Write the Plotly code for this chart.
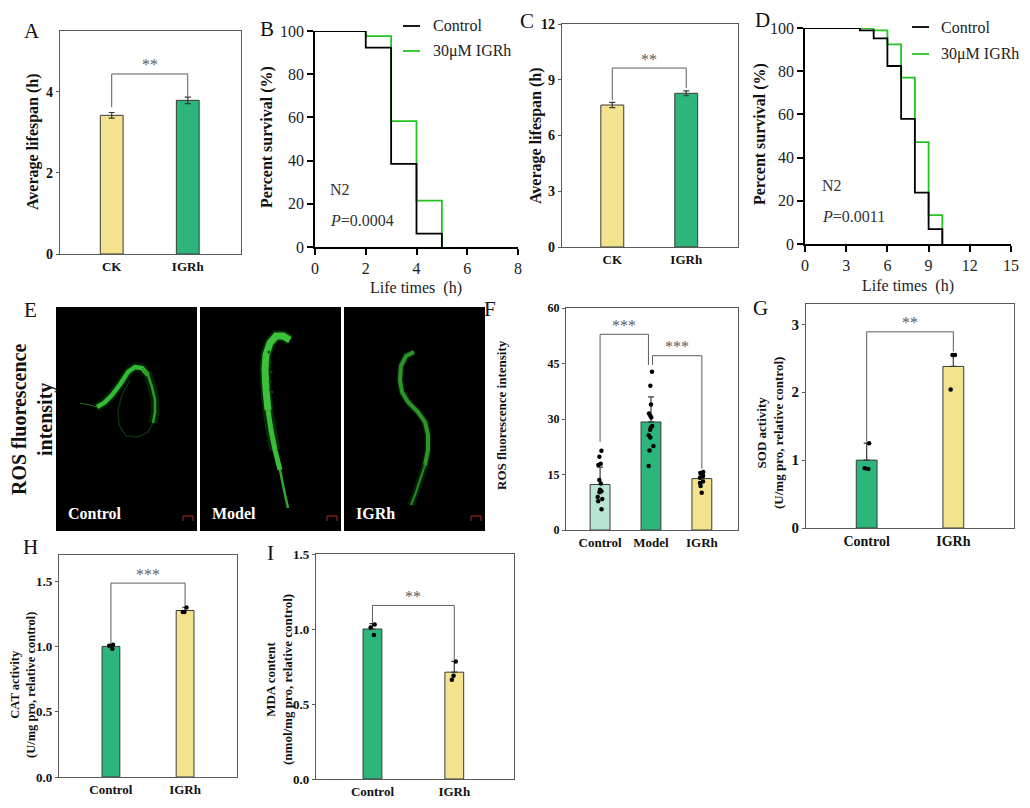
import plotly.graph_objects as go

# page body keeps an 8px margin, so the figure is drawn 8px in and 16px smaller
OX, OY = 8, 8
FW, FH = 1014, 792
SERIF = "Liberation Serif"
YELLOW = "#F4E38E"
GREEN = "#2DB67B"
MINT = "#B8E6D3"
LIME = "#22c422"
EDGE = "#3a3a3a"
FRAME = "#5a5a5a"
STAR = "#5c5c5c"

# ---------------- data ----------------
# A / C : average lifespan (h)
life_groups = ["CK", "IGRh"]
life_a_mean = [3.42, 3.79]
life_a_err = [0.07, 0.08]
life_c_mean = [7.64, 8.27]
life_c_err = [0.14, 0.13]

# B / D : survival curves (%)
surv_names = ["Control", "30μM IGRh"]
surv_b_t = [0, 2, 3, 4, 5]
surv_b_control = [100, 92.3, 38.5, 6.2, 0]
surv_b_igrh = [100, 97.6, 58.3, 21.5, 0]
surv_d_t_control = [0, 4, 5, 6, 7, 8, 9, 10]
surv_d_control = [100, 98.9, 95.2, 82.4, 57.9, 23.8, 6.9, 0]
surv_d_t_igrh = [0, 5, 6, 7, 8, 9, 10]
surv_d_igrh = [100, 98.9, 92.4, 77.0, 47.2, 13.4, 0]

# F : ROS fluorescence intensity
ros_groups = ["Control", "Model", "IGRh"]
ros_mean = [12.3, 29.2, 13.9]
ros_sd = [4.7, 6.8, 1.6]
ros_control_pts = [21.4, 19.8, 17.9, 17.6, 13.5, 12.6, 10.9, 10.5, 10.2, 8.9, 8.4, 7.8, 5.6]
ros_model_pts = [42.8, 39.0, 33.9, 31.5, 30.9, 30.4, 28.1, 27.8, 27.1, 25.6, 25.0, 22.7, 21.5, 17.3]
ros_igrh_pts = [15.7, 15.4, 15.2, 15.0, 14.6, 14.1, 13.1, 12.7, 11.9, 10.1]

# G / H / I : enzyme activity, relative to control
enz_groups = ["Control", "IGRh"]
sod_mean = [1.0, 2.38]
sod_err = [0.25, 0.17]
sod_control_pts = [0.87, 0.88, 1.25]
sod_igrh_pts = [2.04, 2.55, 2.55]
cat_mean = [1.0, 1.275]
cat_err = [0.013, 0.025]
cat_control_pts = [0.982, 1.005, 1.013]
cat_igrh_pts = [1.263, 1.263, 1.298]
mda_mean = [1.0, 0.712]
mda_err = [0.036, 0.072]
mda_control_pts = [0.96, 1.01, 1.03]
mda_igrh_pts = [0.662, 0.689, 0.784]


def px(x):
    return (x - OX) / FW


def py(y):
    return 1 - (y - OY) / FH


def ax_names(n):
    return ("x", "y") if n == 1 else (f"x{n}", f"y{n}")


fig = go.Figure()
shapes = []
annotations = []


def bar_panel(n, groups, means, errs, pts_lists, colors, box, xr, yr, dtick,
              bar_w, err_sym, tick_size, xtick_size, ytick_fmt=None):
    xa, ya = ax_names(n)
    pos = list(range(len(groups)))
    fig.add_trace(go.Bar(
        x=pos, y=means, width=bar_w, xaxis=xa, yaxis=ya,
        marker=dict(color=colors, line=dict(color=EDGE, width=1)),
        error_y=dict(type="data", array=errs,
                     arrayminus=errs if err_sym else [0] * len(errs),
                     symmetric=False, color=EDGE, thickness=1.2, width=3),
        showlegend=False, hoverinfo="skip"))
    if pts_lists:
        xs, ys = [], []
        for p, pts in zip(pos, pts_lists):
            xs += [p] * len(pts)
            ys += pts
        fig.add_trace(go.Box(
            x=xs, y=ys, xaxis=xa, yaxis=ya, boxpoints="all", jitter=0.55,
            pointpos=0, width=bar_w * 0.55, fillcolor="rgba(0,0,0,0)",
            line=dict(color="rgba(0,0,0,0)"),
            marker=dict(color="black", size=4.5), showlegend=False,
            hoverinfo="skip"))
    l, t, r, b = box
    key = "" if n == 1 else str(n)
    fig.update_layout({
        f"xaxis{key}": dict(
            domain=[px(l), px(r)], anchor=ya, range=xr, tickvals=pos,
            ticktext=groups, showline=True, mirror=True, linecolor=FRAME,
            linewidth=1.2, ticks="", showgrid=False, zeroline=False,
            automargin=False,
            tickfont=dict(family=SERIF, size=xtick_size, color="#111", weight="bold")),
        f"yaxis{key}": dict(
            domain=[py(b), py(t)], anchor=xa, range=yr, dtick=dtick,
            tickformat=ytick_fmt, showline=True, mirror=True, linecolor=FRAME,
            linewidth=1.2, ticks="outside", ticklen=3, tickcolor=FRAME,
            showgrid=False, zeroline=False, automargin=False,
            tickfont=dict(family=SERIF, size=tick_size, color="#111", weight="bold")),
    })


def surv_panel(n, box, xr, xdtick, traces):
    xa, ya = ax_names(n)
    for t, s, color in traces:
        fig.add_trace(go.Scatter(
            x=t, y=s, mode="lines", line=dict(color=color, width=1.8, shape="hv"),
            xaxis=xa, yaxis=ya, cliponaxis=False, showlegend=False,
            hoverinfo="skip"))
    l, t, r, b = box
    axis = dict(showline=True, linecolor="black", linewidth=1.6, ticks="outside",
                ticklen=6, tickwidth=1.5, tickcolor="black", showgrid=False,
                zeroline=False, automargin=False,
                tickfont=dict(family=SERIF, size=16, color="#222"))
    fig.update_layout({
        f"xaxis{n}": dict(domain=[px(l), px(r)], anchor=ya, range=xr, dtick=xdtick, **axis),
        f"yaxis{n}": dict(domain=[py(b), py(t)], anchor=xa, range=[0, 100], dtick=20, **axis),
    })


def bracket(n, x1, x2, y_top, y1, y2, stars):
    xa, ya = ax_names(n)
    shapes.append(dict(type="path", xref=xa, yref=ya,
                       path=f"M {x1},{y1} L {x1},{y_top} L {x2},{y_top} L {x2},{y2}",
                       line=dict(color=STAR, width=1)))
    annotations.append(dict(x=(x1 + x2) / 2, y=y_top, xref=xa, yref=ya, text=stars,
                            showarrow=False, yanchor="middle", yshift=9,
                            font=dict(family=SERIF, size=16, color=STAR)))


def label(x, y, text, size=22, color="#111", weight="normal", xanchor="center",
          **kw):
    annotations.append(dict(x=px(x), y=py(y), xref="paper", yref="paper", text=text,
                            showarrow=False, xanchor=xanchor, yanchor="middle",
                            font=dict(family=SERIF, size=size, color=color,
                                      weight=weight), **kw))


def legend_box(x_line, x_text, ys, names, colors):
    for y, name, color in zip(ys, names, colors):
        shapes.append(dict(type="line", xref="paper", yref="paper", x0=px(x_line),
                           x1=px(x_line + 17), y0=py(y), y1=py(y),
                           line=dict(color=color, width=1.8)))
        label(x_text, y, name, size=16, color="#222", xanchor="left")


# ---------------- panels ----------------
bar_panel(1, life_groups, life_a_mean, life_a_err, None, [YELLOW, GREEN],
          (60, 31, 241, 254), [-0.68, 1.70], [0, 5.5], 2, 0.30, True, 14, 13)
bracket(1, 0, 1, 4.44, 3.62, 3.88, "**")

surv_panel(2, (315, 31, 518, 247), [0, 8], 2,
           [(surv_b_t, surv_b_igrh, LIME), (surv_b_t, surv_b_control, "black")])
legend_box(403, 431, [26, 51], surv_names, ["black", LIME])

bar_panel(3, life_groups, life_c_mean, life_c_err, None, [YELLOW, GREEN],
          (562, 24, 738, 247), [-0.68, 1.70], [0, 12], 3, 0.31, True, 14, 13)
bracket(3, 0, 1, 9.63, 7.9, 8.54, "**")

surv_panel(4, (805, 28, 1011, 244), [0, 15], 3,
           [(surv_d_t_igrh, surv_d_igrh, LIME),
            (surv_d_t_control, surv_d_control, "black")])
legend_box(912, 939, [27, 54], surv_names, ["black", LIME])

bar_panel(5, ros_groups, ros_mean, ros_sd,
          [ros_control_pts, ros_model_pts, ros_igrh_pts], [MINT, GREEN, YELLOW],
          (566, 308, 738, 530), [-0.67, 2.71], [0, 60], 15, 0.39, False, 12, 13)
bracket(5, 0, 0.95, 52.9, 23.8, 44.6, "***")
bracket(5, 1.03, 2, 47.1, 44.6, 16.6, "***")

bar_panel(6, enz_groups, sod_mean, sod_err, [sod_control_pts, sod_igrh_pts],
          [GREEN, YELLOW], (806, 304, 1014, 528), [-0.7, 1.7], [0, 3.3], 1,
          0.24, False, 15, 14)
bracket(6, 0, 1, 2.89, 1.27, 2.6, "**")

bar_panel(7, enz_groups, cat_mean, cat_err, [cat_control_pts, cat_igrh_pts],
          [GREEN, YELLOW], (59, 555, 237, 777), [-0.7, 1.7], [0, 1.7], 0.5,
          0.24, False, 13, 13, ".1f")
bracket(7, 0, 1, 1.485, 1.018, 1.31, "***")

bar_panel(8, enz_groups, mda_mean, mda_err, [mda_control_pts, mda_igrh_pts],
          [GREEN, YELLOW], (316, 554, 514, 779), [-0.69, 1.73], [0, 1.5], 0.5,
          0.23, False, 13, 13, ".1f")
bracket(8, 0, 1, 1.157, 1.04, 0.795, "**")

# ---------------- E : fluorescence images ----------------
img_boxes = [(56, 197), (200, 341), (344, 485)]
img_names = ["Control", "Model", "IGRh"]
for (l, r), name in zip(img_boxes, img_names):
    shapes.append(dict(type="rect", xref="paper", yref="paper", x0=px(l), x1=px(r),
                       y0=py(531), y1=py(307), fillcolor="black", line=dict(width=0),
                       layer="below"))
    label(l + 10, 513, name, size=16, color="white", weight="bold", xanchor="left")
    shapes.append(dict(type="path", xref="paper", yref="paper",
                       path=f"M {px(r - 14)},{py(521)} L {px(r - 14)},{py(516)} "
                            f"L {px(r - 4)},{py(516)} L {px(r - 4)},{py(521)}",
                       line=dict(color="#b02a28", width=1)))


def worm(points, width, color, opacity=1.0):
    d = "M " + " L ".join(f"{px(x)},{py(y)}" for x, y in points)
    shapes.append(dict(type="path", xref="paper", yref="paper", path=d,
                       line=dict(color=color, width=width), opacity=opacity))


ctrl_body = [(97, 407), (104, 403), (112, 395), (121, 383), (128, 372), (135, 367),
             (142, 368), (148, 375), (152, 387), (155, 400), (155, 412), (153, 423)]
ctrl_loop = [(153, 423), (148, 432), (138, 437), (126, 436), (119, 425), (118, 410),
             (122, 395), (130, 380)]
worm(ctrl_body, 9, "#0f4a0f", 0.45)
worm(ctrl_body[:8], 4.5, "#34bb34")
worm(ctrl_body[6:], 2.5, "#2a9c2a")
worm(ctrl_loop, 1.5, "#134213", 0.7)
worm([(80, 403), (90, 405), (97, 407)], 1.2, "#1c6e1c")

model_body = [(290, 340), (283, 336), (276, 336), (270, 343), (266, 355), (265, 370),
              (266, 390), (268, 410), (271, 430), (275, 450), (280, 470), (284, 490),
              (288, 508)]
worm(model_body[:10], 11, "#125212", 0.5)
worm(model_body[:8], 7, "#3ac23a")
worm(model_body[7:11], 5, "#38bd38")
worm(model_body[10:], 2.5, "#30a830")
for sx, sy in [(269, 352), (270, 362), (271, 372), (270, 382), (272, 392)]:
    shapes.append(dict(type="circle", xref="paper", yref="paper", x0=px(sx - 1.5),
                       x1=px(sx + 1.5), y0=py(sy + 1.5), y1=py(sy - 1.5),
                       fillcolor="#124512", line=dict(width=0)))

igrh_body = [(414, 352), (406, 356), (401, 366), (400, 380), (402, 392), (408, 402),
             (418, 412), (425, 422), (428, 435), (428, 450), (425, 465), (420, 480),
             (415, 495), (411, 505)]
worm(igrh_body, 7, "#0f3f0f", 0.5)
worm(igrh_body[:11], 4, "#2a962a")
worm(igrh_body[10:], 2.2, "#238423")

# ---------------- text ----------------
for x, y, t in [(32, 31, "A"), (267, 29, "B"), (527, 21, "C"), (762, 20, "D"),
                (30, 310, "E"), (490, 309, "F"), (760, 308, "G"), (30, 547, "H"),
                (270, 553, "I")]:
    label(x, y, t, size=21)

label(33, 142, "Average lifespan (h)", size=16, weight="bold", textangle=-90)
label(536, 136, "Average lifespan (h)", size=16, weight="bold", textangle=-90)
label(267, 137, "Percent survival (%)", size=16, weight="bold", textangle=-90)
label(760, 134, "Percent survival (%)", size=16, weight="bold", textangle=-90)
label(416, 288, "Life times\u00a0\u00a0(h)", size=16, color="#222")
label(908, 286, "Life times\u00a0\u00a0(h)", size=16, color="#222")
label(328, 189, "N2", size=16, color="#333", xanchor="left")
label(328, 220, "<i>P</i>=0.0004", size=16, color="#333", xanchor="left")
label(820, 185, "N2", size=16, color="#333", xanchor="left")
label(820, 217, "<i>P</i>=0.0011", size=16, color="#333", xanchor="left")

label(32, 420, "ROS fluorescence<br>intensity", size=20, weight="bold", textangle=-90)
label(502, 415, "ROS fluorescence intensity", size=13, weight="bold", textangle=-90)
label(770, 433, "SOD activity<br>(U/mg pro, relative control)", size=13,
      weight="bold", textangle=-90)
label(23, 685, "CAT activity<br>(U/mg pro, relative control)", size=12.5,
      weight="bold", textangle=-90)
label(279, 680, "MDA content<br>(nmol/mg pro, relative control)", size=13,
      weight="bold", textangle=-90)

fig.update_layout(
    width=FW, height=FH, margin=dict(l=0, r=0, t=0, b=0),
    paper_bgcolor="white", plot_bgcolor="white", showlegend=False,
    shapes=shapes, annotations=annotations,
)

fig.write_html("out.html")
